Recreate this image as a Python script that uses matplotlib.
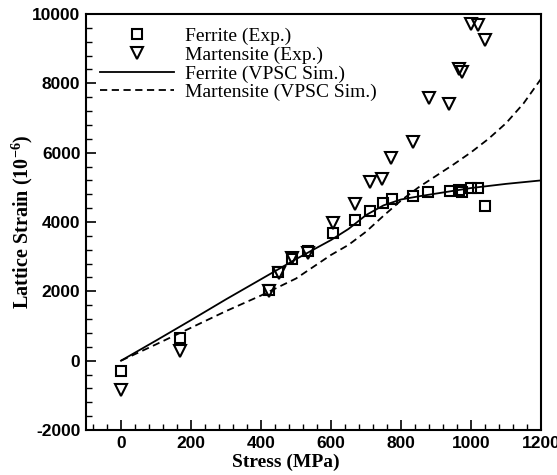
import matplotlib
matplotlib.use("Agg")
import matplotlib.pyplot as plt
from matplotlib.ticker import MultipleLocator

plt.rcParams["mathtext.fontset"] = "custom"
plt.rcParams["mathtext.rm"] = "Liberation Serif:bold"
plt.rcParams["mathtext.default"] = "rm"
plt.rcParams["axes.unicode_minus"] = False

# experimental data
fer_stress = [0, 169, 424, 448, 488, 534, 605, 669, 710, 749, 773, 833, 878, 939, 966, 975, 999, 1021, 1039]
fer_strain = [-300, 650, 2040, 2570, 2935, 3175, 3675, 4060, 4330, 4540, 4650, 4760, 4860, 4890, 4935, 4860, 4985, 4985, 4455]
mar_stress = [0, 169, 424, 450, 488, 534, 605, 669, 710, 747, 771, 835, 880, 937, 966, 973, 1001, 1020, 1039]
mar_strain = [-850, 280, 2000, 2520, 2950, 3110, 3960, 4520, 5150, 5240, 5850, 6320, 7570, 7410, 8420, 8320, 9720, 9670, 9260]

# VPSC simulation curves
sim_stress = [0, 100, 200, 300, 400, 500, 600, 650, 700, 750, 800, 850, 900, 950, 1000, 1050, 1100, 1150, 1200]
fer_sim = [0, 580, 1170, 1770, 2350, 2930, 3480, 3800, 4200, 4480, 4650, 4740, 4820, 4900, 4980, 5040, 5100, 5150, 5200]
mar_sim = [0, 470, 950, 1430, 1880, 2370, 3050, 3340, 3720, 4180, 4620, 5000, 5330, 5660, 6010, 6400, 6850, 7420, 8130]

fig = plt.figure(figsize=(5.57, 4.75), dpi=100)
ax = fig.add_axes([0.1544, 0.0947, 0.8169, 0.8758])

ax.plot(fer_stress, fer_strain, "s", ms=7, mfc="none", mec="black", mew=1.5, label="Ferrite (Exp.)")
ax.plot(mar_stress, mar_strain, "v", ms=8, mfc="none", mec="black", mew=1.5, label="Martensite (Exp.)")
ax.plot(sim_stress, fer_sim, "-", color="black", lw=1.3, label="Ferrite (VPSC Sim.)")
ax.plot(sim_stress, mar_sim, "--", color="black", lw=1.3, dashes=(4, 2.5), label="Martensite (VPSC Sim.)")

ax.set_xlim(-100, 1200)
ax.set_ylim(-2000, 10000)
ax.xaxis.set_major_locator(MultipleLocator(200))
ax.xaxis.set_minor_locator(MultipleLocator(40))
ax.yaxis.set_major_locator(MultipleLocator(2000))
ax.yaxis.set_minor_locator(MultipleLocator(400))
ax.tick_params(which="both", direction="in", top=False, right=False)
ax.tick_params(which="major", length=7, width=1.2, pad=4)
ax.tick_params(which="minor", length=4, width=1.0)
for lbl in ax.get_xticklabels() + ax.get_yticklabels():
    lbl.set_fontfamily("Liberation Sans")
    lbl.set_fontweight("bold")
    lbl.set_fontsize(12.5)
for s in ax.spines.values():
    s.set_linewidth(1.5)

ax.set_xlabel("Stress (MPa)", fontfamily="Liberation Serif", fontweight="bold", fontsize=14)
ax.set_ylabel("Lattice Strain (10$^{-6}$)", fontfamily="Liberation Serif", fontweight="bold", fontsize=14.5)
ax.xaxis.set_label_coords(0.44, -0.058)
ax.yaxis.set_label_coords(-0.112, 0.50)

ax.legend(loc="upper left", frameon=False, prop={"family": "Liberation Serif", "size": 14},
          handlelength=3.8, labelspacing=0.05, borderaxespad=0.3, handletextpad=0.6)

fig.savefig("out.png", dpi=100)
